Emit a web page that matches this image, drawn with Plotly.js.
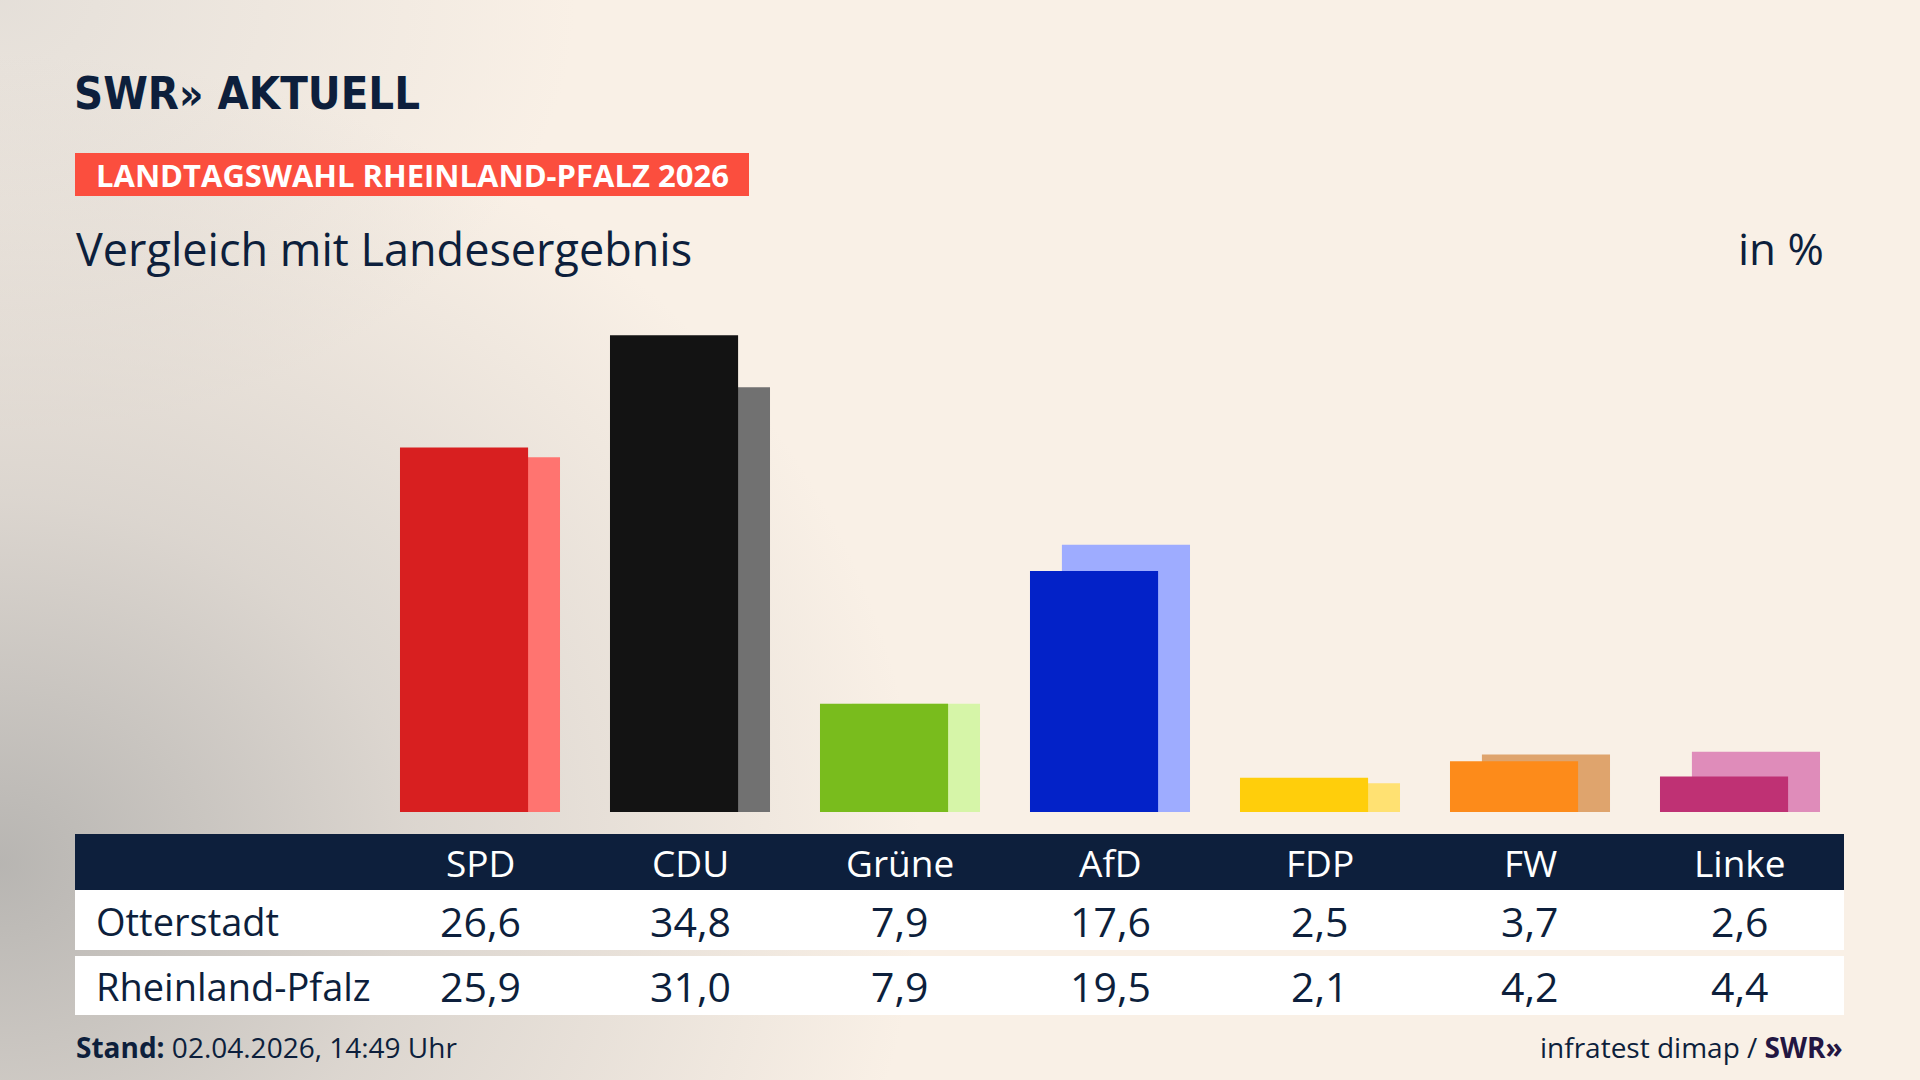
<!DOCTYPE html>
<html>
<head>
<meta charset="utf-8">
<script src="https://cdn.plot.ly/plotly-3.0.1.min.js"></script>
<style>
  html, body { margin: 0; padding: 0; }
  body {
    width: 1920px; height: 1080px; overflow: hidden;
    background:
      radial-gradient(ellipse 48% 75% at 0% 80%, rgba(180,178,175,0.95) 0%, rgba(200,196,192,0.6) 45%, rgba(249,240,230,0) 100%),
      radial-gradient(ellipse 30% 40% at 0% 0%, rgba(215,212,208,0.6) 0%, rgba(249,240,230,0) 100%),
      #f9f0e6;
  }
  #chart { width: 1920px; height: 1080px; }
</style>
</head>
<body>
<div id="chart"></div>
<script>
// data
const parties = ['SPD', 'CDU', 'Grüne', 'AfD', 'FDP', 'FW', 'Linke'];
const otterstadt = [26.6, 34.8, 7.9, 17.6, 2.5, 3.7, 2.6];
const landesergebnis = [25.9, 31.0, 7.9, 19.5, 2.1, 4.2, 4.4];
const rowLabels = ['Otterstadt', 'Rheinland-Pfalz'];
const otterstadtColors = ['#d81f20', '#131313', '#79bc1d', '#0322c8', '#ffce0b', '#fd8b1a', '#bf3174'];
const landesColors = ['#ff7470', '#717171', '#d6f5a8', '#9eacff', '#ffe172', '#dfa46d', '#df8cba'];

const navy = '#0d1f3c';
const W = 1920, H = 1080;
const py = px => 1 - px / H;   // pixel row -> paper y
const pxX = px => px / W;      // pixel col -> paper x
const fmt = v => v.toFixed(1).replace('.', ',');

const bodyFont = 'Open Sans, Noto Sans, sans-serif';

// bars: the state result sits behind, shifted right
const barWidth = 0.61;
const shift = 0.076;

const data = [
    {
        type: 'bar',
        x: parties,
        y: landesergebnis,
        name: rowLabels[1],
        width: barWidth,
        offset: shift - barWidth / 2,
        marker: {color: landesColors, line: {width: 0}},
        hoverinfo: 'skip'
    },
    {
        type: 'bar',
        x: parties,
        y: otterstadt,
        name: rowLabels[0],
        width: barWidth,
        offset: -shift - barWidth / 2,
        marker: {color: otterstadtColors, line: {width: 0}},
        hoverinfo: 'skip'
    }
];

const annotations = [];
const shapes = [];

// header
annotations.push({
    xref: 'paper', yref: 'paper', x: pxX(72), y: py(93),
    xanchor: 'left', yanchor: 'middle', showarrow: false,
    text: 'SWR<span style="font-size:42px">»</span> AKTUELL',
    font: {family: 'Liberation Sans Narrow, DejaVu Sans Condensed, sans-serif', size: 45, color: navy, weight: 700}
});
shapes.push({
    type: 'rect', xref: 'paper', yref: 'paper', layer: 'below',
    x0: pxX(75), x1: pxX(749), y0: py(196), y1: py(153),
    fillcolor: '#fb4e3e', line: {width: 0}
});
annotations.push({
    xref: 'paper', yref: 'paper', x: pxX(412), y: py(175),
    xanchor: 'center', yanchor: 'middle', showarrow: false,
    text: '<b>LANDTAGSWAHL RHEINLAND-PFALZ 2026</b>',
    font: {family: bodyFont, size: 31, color: '#ffffff'}
});
annotations.push({
    xref: 'paper', yref: 'paper', x: pxX(74), y: py(248),
    xanchor: 'left', yanchor: 'middle', showarrow: false,
    text: 'Vergleich mit Landesergebnis',
    font: {family: bodyFont, size: 45, color: navy}
});
annotations.push({
    xref: 'paper', yref: 'paper', x: pxX(1826), y: py(248),
    xanchor: 'right', yanchor: 'middle', showarrow: false,
    text: 'in %',
    font: {family: bodyFont, size: 44, color: navy}
});

// table
const tableLeft = pxX(75), tableRight = pxX(1844);
shapes.push({type: 'rect', xref: 'paper', yref: 'paper', x0: tableLeft, x1: tableRight,
             y0: py(890), y1: py(834), fillcolor: navy, line: {width: 0}});
shapes.push({type: 'rect', xref: 'paper', yref: 'paper', x0: tableLeft, x1: tableRight,
             y0: py(950), y1: py(890), fillcolor: '#ffffff', line: {width: 0}});
shapes.push({type: 'rect', xref: 'paper', yref: 'paper', x0: tableLeft, x1: tableRight,
             y0: py(1015), y1: py(956), fillcolor: '#ffffff', line: {width: 0}});

const rowY = [py(921), py(986)];
const rowValues = [otterstadt, landesergebnis];

parties.forEach((p, i) => {
    annotations.push({
        xref: 'x', yref: 'paper', x: i, y: py(862),
        xanchor: 'center', yanchor: 'middle', showarrow: false,
        text: p, font: {family: bodyFont, size: 37, color: '#ffffff'}
    });
    rowValues.forEach((vals, r) => {
        annotations.push({
            xref: 'x', yref: 'paper', x: i, y: rowY[r],
            xanchor: 'center', yanchor: 'middle', showarrow: false,
            text: fmt(vals[i]), font: {family: bodyFont, size: 41, color: navy}
        });
    });
});
rowLabels.forEach((lab, r) => {
    annotations.push({
        xref: 'paper', yref: 'paper', x: pxX(94), y: rowY[r],
        xanchor: 'left', yanchor: 'middle', showarrow: false,
        text: lab, font: {family: bodyFont, size: 38, color: navy}
    });
});

// footer
annotations.push({
    xref: 'paper', yref: 'paper', x: pxX(74), y: py(1047),
    xanchor: 'left', yanchor: 'middle', showarrow: false,
    text: '<b>Stand:</b> 02.04.2026, 14:49 Uhr',
    font: {family: bodyFont, size: 28, color: navy}
});
annotations.push({
    xref: 'paper', yref: 'paper', x: pxX(1845), y: py(1047),
    xanchor: 'right', yanchor: 'middle', showarrow: false,
    text: 'infratest dimap / <b><span style="color:#231642">SWR»</span></b>',
    font: {family: bodyFont, size: 28, color: navy}
});

// x: 210 px per category, first category centred at 480 px
const catPx = 210, firstPx = 480;
const x0 = -firstPx / catPx;
// y: baseline at 812 px, 13.7 px per percent
const basePx = 812, pxPerPct = 13.7;

const layout = {
    width: W,
    height: H,
    margin: {l: 0, r: 0, t: 0, b: 0},
    paper_bgcolor: 'rgba(0,0,0,0)',
    plot_bgcolor: 'rgba(0,0,0,0)',
    barmode: 'overlay',
    showlegend: false,
    xaxis: {
        type: 'category',
        domain: [0, 1],
        range: [x0, x0 + W / catPx],
        showticklabels: false, showgrid: false, zeroline: false, showline: false, ticks: ''
    },
    yaxis: {
        domain: [1 - basePx / H, 1],
        range: [0, basePx / pxPerPct],
        showticklabels: false, showgrid: false, zeroline: false, showline: false, ticks: ''
    },
    shapes: shapes,
    annotations: annotations
};

Plotly.newPlot('chart', data, layout, {displayModeBar: false, staticPlot: true});
</script>
</body>
</html>
